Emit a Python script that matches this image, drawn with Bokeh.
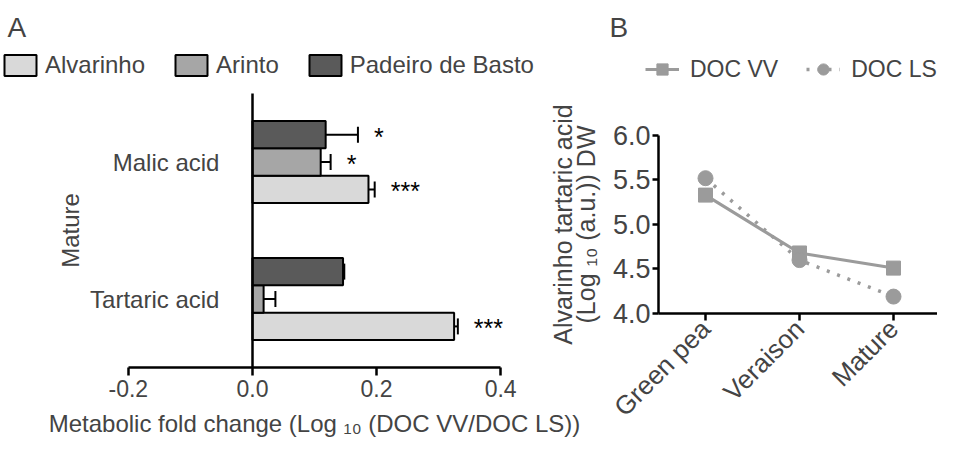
from bokeh.plotting import figure
from bokeh.models import (Range1d, FixedTicker, NumeralTickFormatter,
                          Legend, LegendItem, Whisker, TeeHead, ColumnDataSource)
from bokeh.transform import dodge
from bokeh.layouts import row
from bokeh.embed import file_html
from bokeh.resources import INLINE
from bokeh.core.properties import value

FONT = "Liberation Sans"

# ---------------- Panel A data ----------------
acids = ["Tartaric acid", "Malic acid"]
alvarinho = [0.325, 0.187]
alvarinho_err = [0.006, 0.010]
arinto = [0.018, 0.110]
arinto_err = [0.019, 0.016]
padeiro = [0.146, 0.118]
padeiro_err = [0.002, 0.052]
alvarinho_sig = ["***", "***"]
arinto_sig = ["", "*"]
padeiro_sig = ["", "*"]
x_ticks_a = [-0.2, 0.0, 0.2, 0.4]

# ---------------- Panel B data ----------------
stages = ["Green pea", "Veraison", "Mature"]
doc_vv = [5.33, 4.68, 4.51]
doc_ls = [5.52, 4.60, 4.19]
y_ticks_b = [4.0, 4.5, 5.0, 5.5, 6.0]

acid_pos = list(range(len(acids)))
stage_pos = list(range(len(stages)))

# ================= Panel A =================
pA = figure(x_range=Range1d(-0.406, 0.548), y_range=Range1d(-1.011, 1.858),
            frame_width=592, frame_height=393,
            min_border_left=0, min_border_right=0,
            min_border_top=44, min_border_bottom=0,
            output_backend="svg", toolbar_location=None, tools="")
pA.grid.visible = False
pA.outline_line_color = None

series = [
    ("Alvarinho", alvarinho, alvarinho_err, alvarinho_sig, "#d9d9d9", -0.2),
    ("Arinto", arinto, arinto_err, arinto_sig, "#a6a6a6", 0.0),
    ("Padeiro de Basto", padeiro, padeiro_err, padeiro_sig, "#5a5a5a", 0.2),
]
items = []
for name, vals, errs, sig, color, off in series:
    src = ColumnDataSource(dict(pos=acid_pos, val=vals,
                                hi=[v + e for v, e in zip(vals, errs)], sig=sig))
    ypos = dodge("pos", off)
    r = pA.hbar(y=ypos, left=0, right="val", height=0.2, source=src,
                fill_color=color, line_color="black", line_width=2)
    w = Whisker(source=src, base=ypos, lower="val", upper="hi", dimension="width",
                line_color="black", line_width=2,
                upper_head=TeeHead(size=16, line_color="black", line_width=2),
                lower_head=None)
    pA.add_layout(w)
    pA.text(x="hi", y=ypos, text="sig", source=src, x_offset=16, y_offset=2,
            text_font=value(FONT), text_font_size="25px", text_color="black",
            text_align="left", text_baseline="middle")
    items.append(LegendItem(label=name, renderers=[r]))

legA = Legend(items=items, orientation="horizontal", location=(0, 358),
              glyph_width=40, glyph_height=26, label_height=26,
              label_standoff=5, spacing=26, padding=0, margin=0,
              label_text_font=FONT, label_text_font_size="24px",
              border_line_color=None, background_fill_alpha=0)
pA.add_layout(legA)

xa = pA.xaxis[0]
xa.fixed_location = -0.5
xa.bounds = (-0.2, 0.4)
xa.ticker = FixedTicker(ticks=x_ticks_a)
xa.formatter = NumeralTickFormatter(format="0.0")
xa.major_tick_out = 8
xa.major_tick_in = 0
xa.minor_tick_line_color = None
xa.axis_line_width = 2.5
xa.major_tick_line_width = 2.5
xa.major_label_text_font = FONT
xa.major_label_text_font_size = "23px"
xa.major_label_standoff = 4
xa.axis_label = "Metabolic fold change (Log \u2081\u2080 (DOC VV/DOC LS))"
xa.axis_label_text_font = FONT
xa.axis_label_text_font_size = "24px"
xa.axis_label_text_font_style = "normal"
xa.axis_label_standoff = 10

ya = pA.yaxis[0]
ya.fixed_location = 0
ya.bounds = (-0.5, 1.5)
ya.ticker = FixedTicker(ticks=acid_pos)
ya.major_label_overrides = {p: a for p, a in zip(acid_pos, acids)}
ya.major_tick_line_color = None
ya.major_tick_out = 0
ya.minor_tick_line_color = None
ya.axis_line_width = 2.5
ya.major_label_text_font = FONT
ya.major_label_text_font_size = "24px"
ya.major_label_standoff = 33
ya.axis_label = "Mature"
ya.axis_label_text_font = FONT
ya.axis_label_text_font_size = "24px"
ya.axis_label_text_font_style = "normal"
ya.axis_label_standoff = 3

pA.title.text = "A"
pA.title.align = "left"
pA.title.offset = 7
pA.title.standoff = 4
pA.title.text_font = FONT
pA.title.text_font_size = "28px"
pA.title.text_font_style = "normal"

# ================= Panel B =================
pB = figure(x_range=Range1d(-1.681, 2.468), y_range=Range1d(2.607, 7.022),
            frame_width=390, frame_height=393,
            min_border_left=0, min_border_right=0,
            min_border_top=44, min_border_bottom=0,
            output_backend="svg", toolbar_location=None, tools="")
pB.margin = (0, 0, 0, -45)
pB.border_fill_alpha = 0
pB.background_fill_alpha = 0
pB.grid.visible = False
pB.outline_line_color = None

GREY = "#9b9b9b"
srcB = ColumnDataSource(dict(pos=stage_pos, vv=doc_vv, ls=doc_ls))
l_vv = pB.line(x="pos", y="vv", source=srcB, line_color=GREY, line_width=3)
s_vv = pB.scatter(x="pos", y="vv", source=srcB, marker="square", size=14,
                  fill_color=GREY, line_color=GREY)
l_ls = pB.line(x="pos", y="ls", source=srcB, line_color=GREY, line_width=3.5,
               line_dash="3 8")
s_ls = pB.scatter(x="pos", y="ls", source=srcB, marker="circle", size=15,
                  fill_color=GREY, line_color=GREY)

legB = Legend(items=[LegendItem(label="DOC VV", renderers=[l_vv, s_vv]),
                     LegendItem(label="DOC LS", renderers=[l_ls, s_ls])],
              orientation="horizontal", location=(98, 354),
              glyph_width=34, glyph_height=28, label_height=28,
              label_standoff=11, spacing=28, padding=0, margin=0,
              label_text_font=FONT, label_text_font_size="23px",
              border_line_color=None, background_fill_alpha=0)
pB.add_layout(legB)

xb = pB.xaxis[0]
xb.fixed_location = 4.0
xb.bounds = (-0.5, 2.5)
xb.ticker = FixedTicker(ticks=stage_pos)
xb.major_label_overrides = {p: s for p, s in zip(stage_pos, stages)}
xb.major_tick_out = 7
xb.major_tick_in = 0
xb.minor_tick_line_color = None
xb.axis_line_width = 2.5
xb.major_tick_line_width = 2.5
xb.major_label_orientation = 0.785398
xb.major_label_text_font = FONT
xb.major_label_text_font_size = "26px"
xb.major_label_standoff = 4

yb = pB.yaxis[0]
yb.fixed_location = -0.5
yb.bounds = (4.0, 6.0)
yb.ticker = FixedTicker(ticks=y_ticks_b)
yb.formatter = NumeralTickFormatter(format="0.0")
yb.major_tick_out = 6
yb.major_tick_in = 0
yb.minor_tick_line_color = None
yb.axis_line_width = 2.5
yb.major_tick_line_width = 2.5
yb.major_label_text_font = FONT
yb.major_label_text_font_size = "27px"
yb.major_label_standoff = 2
yb.axis_label = "Alvarinho tartaric acid\n(Log \u2081\u2080 (a.u.)) DW"
yb.axis_label_text_font = FONT
yb.axis_label_text_font_size = "25px"
yb.axis_label_text_font_style = "normal"
yb.axis_label_text_line_height = 0.82
yb.axis_label_standoff = 10

pB.title.text = "B"
pB.title.align = "left"
pB.title.offset = 62
pB.title.standoff = 4
pB.title.text_font = FONT
pB.title.text_font_size = "28px"
pB.title.text_font_style = "normal"

layout = row(pA, pB)
open("out.html", "w").write(file_html(layout, INLINE))
